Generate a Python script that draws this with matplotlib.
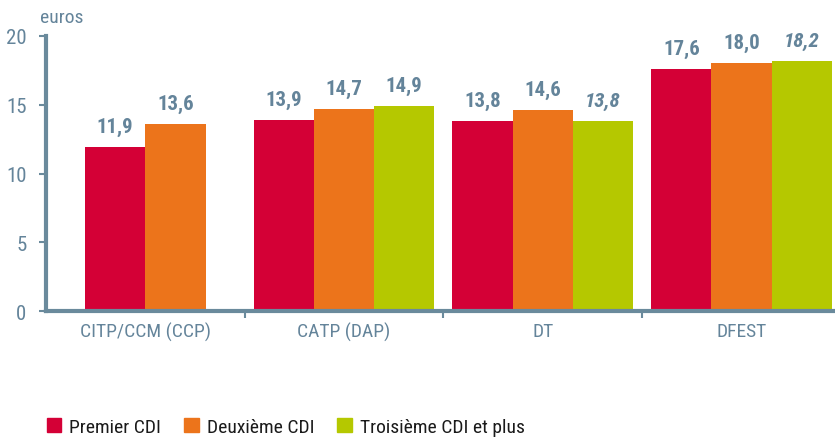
import matplotlib.pyplot as plt
import numpy as np
from matplotlib.patches import Patch

# data
categories = ['CITP/CCM (CCP)', 'CATP (DAP)', 'DT', 'DFEST']
series = ['Premier CDI', 'Deuxième CDI', 'Troisième CDI et plus']
premier = [11.9, 13.9, 13.8, 17.6]
deuxieme = [13.6, 14.7, 14.6, 18.0]
troisieme = [None, 14.9, 13.8, 18.2]
# labels shown in italics (less reliable values)
italic_troisieme = [False, False, True, True]

colors = ['#d40036', '#ec741b', '#b5c800']
txt = '#64849a'
spine = '#6a8a9c'

plt.rcParams['font.family'] = ['Roboto Condensed', 'DejaVu Sans']

fig = plt.figure(figsize=(8.35, 4.39), dpi=100)
ax = fig.add_axes([0.055, 0.289, 0.945, 0.627])

w = 0.303
values = [premier, deuxieme, troisieme]
for ci in range(len(categories)):
    vals = [v[ci] for v in values]
    n = sum(v is not None for v in vals)
    start = ci - w * n / 2 + w / 2
    k = 0
    for si, v in enumerate(vals):
        if v is None:
            continue
        x = start + k * w
        k += 1
        ax.bar(x, v, w, color=colors[si], linewidth=0)
        style = 'italic' if (si == 2 and italic_troisieme[ci]) else 'normal'
        ax.annotate(f'{v:.1f}'.replace('.', ','), (x, v), xytext=(0, 8),
                    textcoords='offset points', ha='center', va='bottom',
                    fontsize=15, fontweight='bold', fontstyle=style, color=txt)

ax.set_xlim(-0.5, 3.47)
ax.set_ylim(0, 20)
ax.set_yticks([0, 5, 10, 15, 20])
ax.tick_params(axis='y', colors=spine, labelcolor=txt, labelsize=15,
               length=5, width=1.5, pad=9)
ax.set_xticks([0.5, 1.5, 2.5])
ax.set_xticklabels([])
ax.set_xticks(range(4), categories, minor=True)
ax.tick_params(axis='x', which='major', colors=spine, length=5, width=1.5)
ax.tick_params(axis='x', which='minor', length=0, labelsize=14,
               labelcolor=txt, pad=8)
for s in ['top', 'right']:
    ax.spines[s].set_visible(False)
for s in ['left', 'bottom']:
    ax.spines[s].set_color(spine)
    ax.spines[s].set_linewidth(3)

fig.text(0.048, 0.948, 'euros', color=txt, fontsize=14)

handles = [Patch(color=c, label=s) for c, s in zip(colors, series)]
fig.legend(handles=handles, loc='lower left', bbox_to_anchor=(0.035, -0.035),
           ncol=3, frameon=False, fontsize=14, handlelength=0.75,
           handleheight=0.75, handletextpad=0.4, columnspacing=1.2,
           labelcolor='#1a1a1a')

fig.savefig('out.png', dpi=100)
